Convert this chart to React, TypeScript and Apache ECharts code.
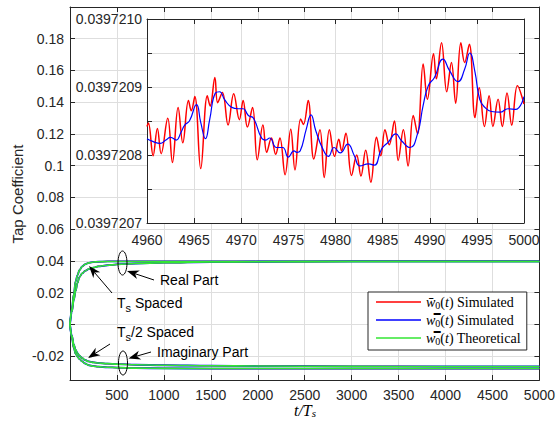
import React, { useEffect, useRef } from 'react';
import * as echarts from 'echarts';

// ---- convergence of the tap coefficient over the whole run ----
const mainT = [0, 20, 40, 60, 80, 100, 130, 160, 200, 250, 300, 400, 500, 700, 1000, 1500, 2000, 3000, 4000, 5000];
const realFast = [0, 0.01, 0.019, 0.0272, 0.031, 0.0342, 0.0365, 0.0379, 0.0388, 0.0393, 0.0395, 0.0397, 0.0397, 0.0397, 0.0397, 0.0397, 0.0397, 0.0397, 0.0397, 0.0397];
const realSlow = [0, 0.008, 0.0152, 0.021, 0.0262, 0.0298, 0.0322, 0.0337, 0.0349, 0.0358, 0.0366, 0.0373, 0.0378, 0.0384, 0.0389, 0.0393, 0.0395, 0.0397, 0.0397, 0.0397];
const imagFast = [0, -0.0085, -0.0148, -0.0184, -0.0203, -0.0217, -0.0233, -0.0246, -0.0257, -0.0263, -0.0266, -0.027, -0.0272, -0.0275, -0.0277, -0.0278, -0.0278, -0.0278, -0.0278, -0.0278];
const imagSlow = [0, -0.007, -0.0125, -0.016, -0.0181, -0.0196, -0.0212, -0.0224, -0.0233, -0.0239, -0.0243, -0.0247, -0.025, -0.0254, -0.0257, -0.026, -0.0262, -0.0264, -0.0265, -0.0265];

// ---- zoomed view of the last 40 symbols (real part) ----
const zoomRedT = [4960, 4960.15, 4960.65, 4961.1, 4961.5, 4962.2, 4962.7, 4963.3, 4963.8, 4964.4, 4964.7, 4965.07, 4965.7, 4966.4, 4966.7, 4967.2, 4967.5, 4968, 4968.6, 4969.2, 4969.8, 4970.2, 4970.65, 4971.2, 4971.7, 4972.3, 4972.7, 4973.2, 4973.65, 4974.1, 4974.65, 4975.25, 4975.7, 4976.3, 4976.6, 4977.1, 4977.7, 4978.35, 4978.8, 4979.35, 4979.9, 4980.35, 4980.65, 4981.1, 4981.7, 4982.25, 4982.7, 4983.2, 4983.75, 4984.35, 4984.8, 4985.25, 4985.7, 4986.25, 4986.65, 4987.2, 4987.7, 4988.25, 4988.7, 4989.3, 4989.75, 4990.4, 4990.7, 4991.25, 4991.8, 4992.3, 4992.75, 4993.3, 4993.7, 4994.2, 4994.8, 4995.25, 4995.8, 4996.3, 4996.7, 4997.25, 4997.7, 4998.2, 4998.7, 4999.3, 5000];
const zoomRedW = [0.039720842, 0.039720847, 0.039720799, 0.039720839, 0.039720802, 0.039720854, 0.039720789, 0.03972087, 0.039720818, 0.03972088, 0.039720865, 0.039720886, 0.03972078, 0.039720887, 0.039720872, 0.039720914, 0.039720877, 0.039720892, 0.039720844, 0.03972089, 0.039720852, 0.03972088, 0.039720841, 0.03972087, 0.039720793, 0.039720844, 0.039720804, 0.039720825, 0.039720801, 0.039720825, 0.039720771, 0.039720838, 0.039720778, 0.039720853, 0.039720845, 0.03972088, 0.039720794, 0.039720837, 0.039720767, 0.039720837, 0.039720798, 0.039720823, 0.039720806, 0.039720832, 0.03972077, 0.0397208, 0.039720769, 0.039720807, 0.03972076, 0.039720826, 0.039720799, 0.039720837, 0.039720815, 0.03972085, 0.039720792, 0.039720837, 0.039720784, 0.039720858, 0.039720831, 0.039720934, 0.039720882, 0.039720949, 0.039720912, 0.039720965, 0.039720893, 0.039720936, 0.039720876, 0.039720965, 0.039720936, 0.039720963, 0.039720855, 0.039720899, 0.039720842, 0.039720887, 0.039720842, 0.039720882, 0.039720842, 0.039720891, 0.039720844, 0.039720902, 0.039720875];
const zoomBlueT = [4960, 4960.6, 4961.4, 4962, 4962.5, 4963.1, 4963.6, 4964, 4964.5, 4965.25, 4965.7, 4966.2, 4966.65, 4967.25, 4967.7, 4968.25, 4969, 4969.65, 4970.2, 4970.75, 4971.3, 4972.2, 4972.6, 4973, 4973.75, 4974.4, 4975, 4975.6, 4975.9, 4976.25, 4976.9, 4977.4, 4977.9, 4978.65, 4979.25, 4979.85, 4980.5, 4981.3, 4982, 4982.6, 4983.5, 4984.1, 4984.9, 4985.6, 4986.4, 4987, 4987.9, 4988.7, 4989.3, 4989.85, 4990.5, 4991.4, 4992.1, 4993, 4993.7, 4994.25, 4994.8, 4995.3, 4995.85, 4996.55, 4997.45, 4998.3, 4999.1, 5000];
const zoomBlueW = [0.039720824, 0.03972082, 0.039720817, 0.039720822, 0.039720826, 0.039720822, 0.039720833, 0.039720844, 0.03972085, 0.039720874, 0.039720848, 0.039720824, 0.039720852, 0.039720891, 0.039720893, 0.039720881, 0.03972087, 0.039720868, 0.039720868, 0.039720858, 0.039720854, 0.039720824, 0.039720822, 0.039720825, 0.039720811, 0.039720811, 0.039720797, 0.039720806, 0.039720804, 0.039720806, 0.039720838, 0.039720859, 0.039720836, 0.039720809, 0.039720798, 0.039720811, 0.039720803, 0.039720816, 0.039720799, 0.039720784, 0.039720787, 0.039720785, 0.039720809, 0.039720819, 0.039720831, 0.039720821, 0.039720811, 0.039720831, 0.039720873, 0.039720902, 0.039720914, 0.039720941, 0.039720924, 0.039720908, 0.039720926, 0.03972095, 0.039720922, 0.039720882, 0.03972087, 0.039720864, 0.039720863, 0.039720868, 0.039720867, 0.039720886];

// ---- tick values ----
const mainYTicks = [-0.02, 0, 0.02, 0.04, 0.06, 0.08, 0.1, 0.12, 0.14, 0.16, 0.18];
const zoomYTicks = [0.0397207, 0.03972075, 0.0397208, 0.03972085, 0.0397209, 0.03972095, 0.039721];
const zoomYLabels = [0.0397207, 0.0397208, 0.0397209, 0.039721];

const NAME_RED = 'w̄0(t) Simulated';
const NAME_BLUE = 'w̿0(t) Simulated';
const NAME_GREEN = 'w̿0(t) Theoretical';

const AXIS = '#262626';
const GRID = '#dedede';
const SANS = 'Liberation Sans, Arial, Helvetica, sans-serif';
const SERIF = 'Liberation Serif, Times New Roman, serif';

const zip = (xs: number[], ys: number[]) => xs.map((x, i) => [x, ys[i]]);

function arrow(x1: number, y1: number, x2: number, y2: number) {
  const dx = x2 - x1;
  const dy = y2 - y1;
  const L = Math.hypot(dx, dy);
  const ux = dx / L;
  const uy = dy / L;
  const px = -uy;
  const py = ux;
  const hl = 12;
  const hw = 4.5;
  const notch = 3.5;
  const bx = x2 - ux * hl;
  const by = y2 - uy * hl;
  const nx = bx + ux * notch;
  const ny = by + uy * notch;
  return [
    { type: 'line', shape: { x1, y1, x2: nx, y2: ny }, style: { stroke: '#000', lineWidth: 1 }, z: 20 },
    {
      type: 'polygon',
      shape: { points: [[x2, y2], [bx + px * hw, by + py * hw], [nx, ny], [bx - px * hw, by - py * hw]] },
      style: { fill: '#000' },
      z: 20,
    },
  ];
}

const annRich = {
  a: { fontFamily: SANS, fontSize: 14, color: '#000' },
  s: { fontFamily: SANS, fontSize: 11, color: '#000', padding: [9, 0, 0, 0] },
};

export default function App() {
  const ref = useRef<HTMLDivElement>(null);

  useEffect(() => {
    if (!ref.current) return;
    const chart = echarts.init(ref.current, undefined, { renderer: 'svg' });

    const tickStyle = { inside: true, length: 5, lineStyle: { color: AXIS, width: 1 } };
    const lineStyle = { show: true, onZero: false, lineStyle: { color: AXIS, width: 1 } };
    const labelBase = { color: AXIS, fontFamily: SANS, fontSize: 14 };

    const curves = [realSlow, realFast, imagSlow, imagFast];
    const series: any[] = [];
    const addMain = (name: string, color: string, width: number) => {
      curves.forEach((c) => {
        series.push({
          type: 'line', name, xAxisIndex: 0, yAxisIndex: 0, data: zip(mainT, c),
          showSymbol: false, symbol: 'none', smooth: 0.4, smoothMonotone: 'x',
          lineStyle: { color, width }, itemStyle: { color }, silent: true, z: 2,
        });
      });
    };
    addMain(NAME_RED, '#ff0000', 1.2);
    addMain(NAME_BLUE, '#0000ff', 1.8);
    addMain(NAME_GREEN, '#33e633', 1.6);

    series.push({
      type: 'line', name: NAME_RED, xAxisIndex: 2, yAxisIndex: 2, data: zip(zoomRedT, zoomRedW),
      showSymbol: false, symbol: 'none', smooth: 0.4, lineStyle: { color: '#ff0000', width: 1.5 },
      itemStyle: { color: '#ff0000' }, silent: true, z: 5,
    });
    series.push({
      type: 'line', name: NAME_BLUE, xAxisIndex: 2, yAxisIndex: 2, data: zip(zoomBlueT, zoomBlueW),
      showSymbol: false, symbol: 'none', smooth: 0.5, lineStyle: { color: '#0000ff', width: 1.2 },
      itemStyle: { color: '#0000ff' }, silent: true, z: 6,
    });

    const legendText: Record<string, string> = {
      [NAME_RED]: '{i|w̄}{sub|0}{n|(}{i|t}{n|) Simulated}',
      [NAME_BLUE]: '{i|w̿}{sub|0}{n|(}{i|t}{n|) Simulated}',
      [NAME_GREEN]: '{i|w̿}{sub|0}{n|(}{i|t}{n|) Theoretical}',
    };

    const graphic: any[] = [
      // axis titles
      {
        type: 'text', x: 17, y: 194, rotation: Math.PI / 2,
        style: { text: 'Tap Coefficient', fontFamily: SANS, fontSize: 15, fill: AXIS, align: 'center', verticalAlign: 'middle' },
      },
      {
        type: 'text', x: 305, y: 410,
        style: {
          text: '{i|t/T}{s|s}', align: 'center', verticalAlign: 'middle',
          rich: {
            i: { fontFamily: SERIF, fontStyle: 'italic', fontSize: 16, color: AXIS },
            s: { fontFamily: SERIF, fontStyle: 'italic', fontSize: 11, color: AXIS, padding: [6, 0, 0, 0] },
          },
        },
      },
      // ellipses marking the real / imaginary steady state
      { type: 'ellipse', shape: { cx: 122.5, cy: 263, rx: 4.5, ry: 12 }, style: { fill: 'none', stroke: '#000', lineWidth: 1 }, z: 20 },
      { type: 'ellipse', shape: { cx: 123, cy: 363, rx: 4.5, ry: 12 }, style: { fill: 'none', stroke: '#000', lineWidth: 1 }, z: 20 },
      ...arrow(154, 280, 127, 271),
      ...arrow(112, 293, 89, 266),
      ...arrow(110, 344, 88, 358),
      ...arrow(151, 352, 128.5, 358.5),
      { type: 'text', x: 160, y: 280, z: 20, style: { text: 'Real Part', fontFamily: SANS, fontSize: 14, fill: '#000', verticalAlign: 'middle' } },
      { type: 'text', x: 157, y: 352, z: 20, style: { text: 'Imaginary Part', fontFamily: SANS, fontSize: 14, fill: '#000', verticalAlign: 'middle' } },
      { type: 'text', x: 117, y: 303, z: 20, style: { text: '{a|T}{s|s}{a| Spaced}', verticalAlign: 'middle', rich: annRich } },
      { type: 'text', x: 117, y: 332, z: 20, style: { text: '{a|T}{s|s}{a|/2 Spaced}', verticalAlign: 'middle', rich: annRich } },
    ];

    chart.setOption({
      animation: false,
      backgroundColor: '#fff',
      grid: [
        { left: 70, right: 16, top: 7, bottom: 44, show: false },
        { left: 147, right: 34, top: 19, bottom: 201, show: true, backgroundColor: '#fff', borderWidth: 0, z: 1 },
      ],
      xAxis: [
        {
          type: 'value', gridIndex: 0, min: 0, max: 5000, interval: 500, position: 'bottom',
          axisLine: lineStyle, axisTick: tickStyle,
          axisLabel: { ...labelBase, margin: 8, formatter: (v: number) => (v === 0 ? '' : String(v)) },
          splitLine: { show: true, lineStyle: { color: GRID, width: 1 } },
        },
        {
          type: 'value', gridIndex: 0, min: 0, max: 5000, interval: 500, position: 'top',
          axisLine: lineStyle, axisTick: tickStyle, axisLabel: { show: false }, splitLine: { show: false },
        },
        {
          type: 'value', gridIndex: 1, min: 4960, max: 5000, interval: 5, position: 'bottom', z: 3,
          axisLine: lineStyle, axisTick: tickStyle,
          axisLabel: { ...labelBase, margin: 10, formatter: (v: number) => String(v) },
          splitLine: { show: true, lineStyle: { color: GRID, width: 1 } },
        },
        {
          type: 'value', gridIndex: 1, min: 4960, max: 5000, interval: 5, position: 'top', z: 3,
          axisLine: lineStyle, axisTick: tickStyle, axisLabel: { show: false }, splitLine: { show: false },
        },
      ],
      yAxis: [
        {
          type: 'value', gridIndex: 0, min: -0.035, max: 0.2, position: 'left',
          axisLine: lineStyle,
          axisTick: { ...tickStyle, customValues: mainYTicks },
          axisLabel: {
            ...labelBase, margin: 6, customValues: mainYTicks,
            formatter: (v: number) => String(Math.round(v * 100) / 100),
          },
          splitLine: { show: true, lineStyle: { color: GRID, width: 1 } },
        },
        {
          type: 'value', gridIndex: 0, min: -0.035, max: 0.2, position: 'right',
          axisLine: lineStyle,
          axisTick: { ...tickStyle, customValues: mainYTicks },
          axisLabel: { show: false, customValues: mainYTicks },
          splitLine: { show: false },
        },
        {
          type: 'value', gridIndex: 1, min: 0.0397207, max: 0.039721, position: 'left', z: 3,
          axisLine: lineStyle,
          axisTick: { ...tickStyle, customValues: zoomYTicks },
          axisLabel: { ...labelBase, margin: 5, customValues: zoomYLabels, formatter: (v: number) => v.toFixed(7) },
          splitLine: { show: true, lineStyle: { color: GRID, width: 1 } },
        },
        {
          type: 'value', gridIndex: 1, min: 0.0397207, max: 0.039721, position: 'right', z: 3,
          axisLine: lineStyle,
          axisTick: { ...tickStyle, customValues: zoomYTicks },
          axisLabel: { show: false, customValues: zoomYLabels },
          splitLine: { show: false },
        },
      ],
      legend: {
        data: [NAME_RED, NAME_BLUE, NAME_GREEN],
        orient: 'vertical',
        left: 368,
        top: 292,
        selectedMode: false,
        backgroundColor: '#fff',
        borderColor: AXIS,
        borderWidth: 1,
        borderRadius: 0,
        padding: [3, 6, 4, 8],
        icon: 'rect',
        itemWidth: 45,
        itemHeight: 1.5,
        itemGap: 3,
        z: 10,
        formatter: (name: string) => legendText[name] || name,
        textStyle: {
          fontFamily: SERIF, fontSize: 14, color: '#000', lineHeight: 14,
          rich: {
            i: { fontFamily: SERIF, fontStyle: 'italic', fontSize: 14, color: '#000' },
            n: { fontFamily: SERIF, fontSize: 14, color: '#000' },
            sub: { fontFamily: SERIF, fontSize: 10, color: '#000', padding: [6, 0, 0, 0] },
          },
        },
      },
      series,
      graphic,
    });

    return () => chart.dispose();
  }, []);

  return <div ref={ref} style={{ position: 'fixed', left: 0, top: 0, width: 558, height: 424 }} />;
}
